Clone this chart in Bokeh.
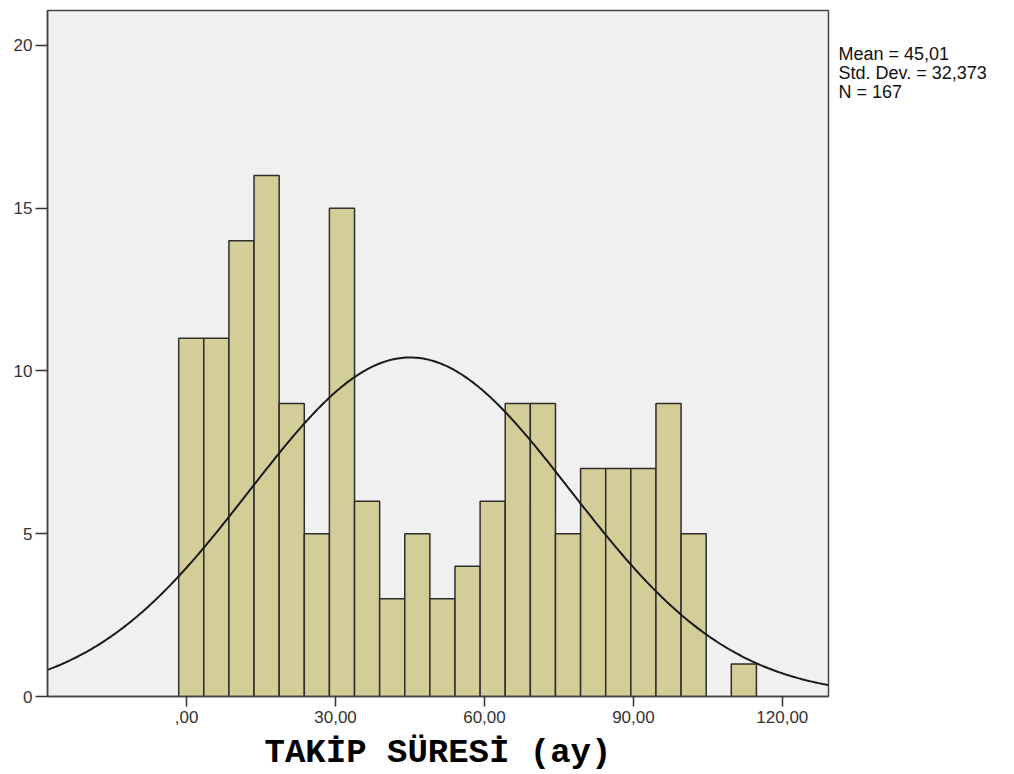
import numpy as np
from bokeh.plotting import figure
from bokeh.models import Range1d, FixedTicker, LinearAxis
from bokeh.embed import file_html
from bokeh.resources import INLINE

# Histogram of follow-up time (months)
bin_start = -1.6
bin_width = 5.06
counts = [11, 11, 14, 16, 9, 5, 15, 6, 3, 5, 3, 4, 6, 9, 9, 5, 7, 7, 7, 9, 5, 0, 1]

mean = 45.01
std_dev = 32.373
n_obs = 167

x_ticks = [0, 30, 60, 90, 120]
x_tick_labels = {0: ",00", 30: "30,00", 60: "60,00", 90: "90,00", 120: "120,00"}
y_ticks = [0, 5, 10, 15, 20]

stats_lines = ["Mean = 45,01", "Std. Dev. = 32,373", "N = 167"]
stats_rows = [19.72, 19.14, 18.57]

lefts = [bin_start + i * bin_width for i in range(len(counts))]
rights = [l + bin_width for l in lefts]

p = figure(width=1014, height=774, output_backend="svg", toolbar_location=None,
           x_range=Range1d(-28.03, 129.3), y_range=Range1d(0, 21.07),
           min_border_left=47, min_border_right=186, min_border_top=10,
           min_border_bottom=77)
p.background_fill_color = "#F0F0F0"
p.border_fill_color = "white"
p.outline_line_color = "#444444"
p.outline_line_width = 1.5
p.grid.visible = False

p.quad(left=[l for l, c in zip(lefts, counts) if c > 0],
       right=[r for r, c in zip(rights, counts) if c > 0],
       bottom=0, top=[c for c in counts if c > 0],
       fill_color="#D3CE97", line_color="#2E2E2E", line_width=1.5)

# Normal curve scaled to the histogram
xs = np.linspace(-28.03, 129.3, 400)
ys = n_obs * bin_width / (std_dev * np.sqrt(2 * np.pi)) * np.exp(-0.5 * ((xs - mean) / std_dev) ** 2)
p.line(xs, ys, line_color="#1A1A1A", line_width=2)

p.xaxis.ticker = FixedTicker(ticks=x_ticks)
p.xaxis.major_label_overrides = x_tick_labels
p.yaxis.ticker = FixedTicker(ticks=y_ticks)
for ax in (p.xaxis[0], p.yaxis[0]):
    ax.minor_tick_line_color = None
    ax.major_tick_in = 0
    ax.major_tick_line_color = "#333333"
    ax.major_tick_line_width = 1.5
    ax.axis_line_color = "#444444"
    ax.axis_line_width = 1.5
    ax.major_label_text_font = "Liberation Sans"
    ax.major_label_text_font_size = "17px"
    ax.major_label_text_color = "#333333"
p.xaxis.major_tick_out = 10
p.yaxis.major_tick_out = 12
p.xaxis.major_label_standoff = 4
p.yaxis.major_label_standoff = 3

p.xaxis.axis_label = "TAKİP SÜRESİ (ay)"
p.xaxis.axis_label_text_font = "Liberation Mono"
p.xaxis.axis_label_text_font_style = "bold"
p.xaxis.axis_label_text_font_size = "34px"
p.xaxis.axis_label_text_line_height = 1.0
p.xaxis.axis_label_text_color = "black"
p.xaxis.axis_label_standoff = 8

# Summary statistics block to the right of the plot
stats_axis = LinearAxis(ticker=FixedTicker(ticks=stats_rows),
                        major_label_overrides=dict(zip(stats_rows, stats_lines)))
stats_axis.axis_line_color = None
stats_axis.major_tick_line_color = None
stats_axis.minor_tick_line_color = None
stats_axis.major_tick_out = 0
stats_axis.major_label_standoff = 10
stats_axis.major_label_text_font = "Liberation Sans"
stats_axis.major_label_text_font_size = "18px"
stats_axis.major_label_text_color = "#111111"
p.add_layout(stats_axis, "right")

open("out.html", "w").write(file_html(p, INLINE))
